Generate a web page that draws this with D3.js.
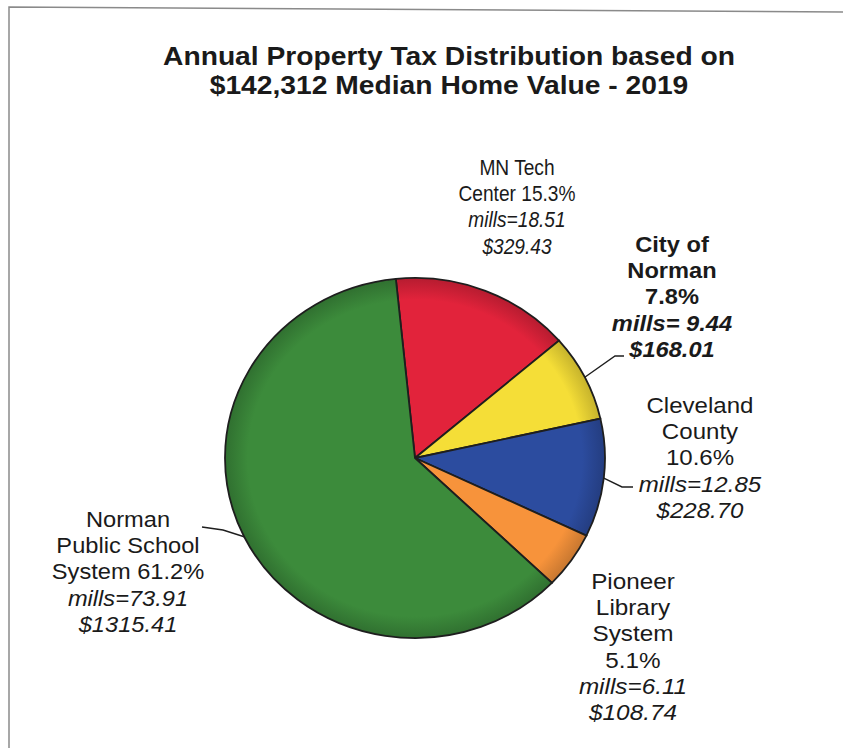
<!DOCTYPE html>
<html>
<head>
<meta charset="utf-8">
<script src="https://cdn.jsdelivr.net/npm/d3@7"></script>
<style>
  body { margin: 0; background: #fff; }
  svg text { font-family: Arial, "Liberation Sans", sans-serif; fill: #1a1a1a; }
</style>
</head>
<body>
<div id="chart"></div>
<script>
// data
var names = ["MN Tech Center", "City of Norman", "Cleveland County", "Pioneer Library System", "Norman Public School System"]
var percents = [15.3, 7.8, 10.6, 5.1, 61.2]
var mills = ["18.51", "9.44", "12.85", "6.11", "73.91"]
var dollars = ["329.43", "168.01", "228.70", "108.74", "1315.41"]
var colors = ["#e2233b", "#f5de37", "#2c4c9f", "#f7933b", "#3c8b3b"]

var titleLines = ["Annual Property Tax Distribution based on", "$142,312 Median Home Value - 2019"]

// label text lines (names split the way the chart does)
var labelLines = [
	["MN Tech", "Center " + percents[0] + "%", "mills=" + mills[0], "$" + dollars[0]],
	["City of", "Norman", percents[1] + "%", "mills= " + mills[1], "$" + dollars[1]],
	["Cleveland", "County", percents[2] + "%", "mills=" + mills[2], "$" + dollars[2]],
	["Pioneer", "Library", "System", percents[3] + "%", "mills=" + mills[3], "$" + dollars[3]],
	["Norman", "Public School", "System " + percents[4] + "%", "mills=" + mills[4], "$" + dollars[4]]
]

// layout
var width = 843, height = 748
var cx = 415, cy = 458
var ry = 180, rx = 190
var lineH = 26.2

var labelPos = [[517, 175], [672, 252], [700, 413], [633, 589], [128, 527]]
var labelStretch = [0.89, 1.1, 1.12, 1.13, 1.1]
var leaders = [null, [[615, 356], [624, 356]], [[622, 487], [633, 487]], null, [[223, 530], [202, 527]]]

var svg = d3.select("#chart").append("svg")
	.attr("width", width)
	.attr("height", height)

// frame
svg.append("path")
	.attr("d", "M9," + height + " L9,7 L" + width + ",12")
	.attr("fill", "none")
	.attr("stroke", "#8a8a8a")
	.attr("stroke-width", 1.5)

svg.selectAll("g.title")
	.data(titleLines)
	.enter()
	.append("g")
	.attr("class", "title")
	.attr("transform", function(d, i){ return "translate(449," + (65 + i * 29) + ") scale(1.13,1)" })
	.append("text")
	.attr("text-anchor", "middle")
	.attr("font-size", 25)
	.attr("font-weight", "bold")
	.text(function(d){ return d })

var pie = d3.pie()
	.sort(null)
	.startAngle(-0.101)
	.endAngle(2 * Math.PI - 0.101)
	.value(function(d){ return d })

var arcs = pie(percents)

var arc = d3.arc()
	.innerRadius(0)
	.outerRadius(ry)

var defs = svg.append("defs")
colors.forEach(function(c, i){
	var gr = defs.append("radialGradient")
		.attr("id", "grad" + i)
		.attr("gradientUnits", "userSpaceOnUse")
		.attr("cx", 0).attr("cy", 0).attr("r", ry)
	gr.append("stop").attr("offset", "0%").attr("stop-color", c)
	gr.append("stop").attr("offset", "88%").attr("stop-color", c)
	gr.append("stop").attr("offset", "100%").attr("stop-color", d3.color(c).darker(0.6))
})

var g = svg.append("g")
	.attr("transform", "translate(" + cx + "," + cy + ") scale(" + (rx / ry) + ",1)")

g.selectAll("path")
	.data(arcs)
	.enter()
	.append("path")
	.attr("d", arc)
	.attr("fill", function(d, i){ return "url(#grad" + i + ")" })
	.attr("stroke", "#1e1e1e")
	.attr("stroke-width", 1.8)
	.attr("vector-effect", "non-scaling-stroke")

// leader lines from slice mid-angle on the rim
arcs.forEach(function(d, i){
	if (!leaders[i]) return
	var a = (d.startAngle + d.endAngle) / 2
	var p0 = [cx + rx * Math.sin(a), cy - ry * Math.cos(a)]
	svg.append("path")
		.attr("d", d3.line()([p0, leaders[i][0], leaders[i][1]]))
		.attr("fill", "none")
		.attr("stroke", "#1e1e1e")
		.attr("stroke-width", 1.4)
})

// labels
labelLines.forEach(function(lines, i){
	var t = svg.append("g")
		.attr("transform", "translate(" + labelPos[i][0] + "," + labelPos[i][1] + ") scale(" + labelStretch[i] + ",1)")
		.append("text")
		.attr("text-anchor", "middle")
		.attr("font-size", 21.5)
		.attr("font-weight", i == 1 ? "bold" : "normal")
	lines.forEach(function(s, j){
		t.append("tspan")
			.attr("x", 0)
			.attr("y", j * lineH)
			.attr("font-style", j >= lines.length - 2 ? "italic" : "normal")
			.text(s)
	})
})
</script>
</body>
</html>
